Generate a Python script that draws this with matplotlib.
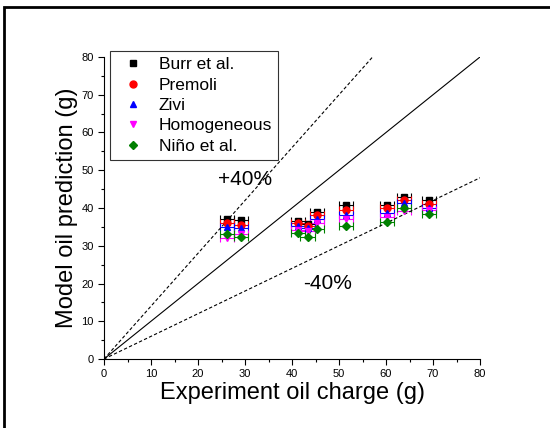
import matplotlib
matplotlib.use("Agg")
import matplotlib.pyplot as plt
from matplotlib.patches import Rectangle
from matplotlib.lines import Line2D

plt.rcParams['font.family'] = ['Liberation Sans', 'DejaVu Sans']

# experiment oil charge (g)
exp_charge = [26.2, 29.1, 41.3, 43.3, 45.3, 51.5, 60.3, 63.8, 69.1]
# model predictions (g)
burr = [37.2, 36.8, 36.6, 35.8, 39.0, 40.8, 40.8, 43.0, 42.0]
premoli = [36.0, 35.6, 36.0, 35.2, 38.1, 39.5, 39.9, 42.1, 41.0]
zivi = [35.0, 34.6, 35.2, 34.6, 37.2, 38.1, 38.6, 41.3, 39.9]
homogeneous = [32.0, 33.0, 34.2, 34.0, 36.1, 37.2, 37.7, 39.3, 39.5]
nino = [33.0, 32.2, 33.5, 32.2, 34.4, 35.2, 36.4, 39.9, 38.4]
x_err = 1.5

series = [
    ("Burr et al.", burr, "s", "black"),
    ("Premoli", premoli, "o", "red"),
    ("Zivi", zivi, "^", "blue"),
    ("Homogeneous", homogeneous, "v", "magenta"),
    ("Niño et al.", nino, "D", "green"),
]

fig = plt.figure(figsize=(5.5, 4.28), dpi=100)
ax = fig.add_axes([104 / 550, 1 - 359 / 428, 376 / 550, 302 / 428])

handles = []
for name, vals, mk, col in series:
    ms = 5 if mk != "D" else 4.5
    ax.errorbar(exp_charge, vals, xerr=x_err, fmt=mk, color=col, ecolor=col,
                ms=ms, capsize=3, elinewidth=0.8, capthick=0.8)
    handles.append(Line2D([], [], ls="none", marker=mk, color=col, ms=ms,
                          label=name))

ax.plot([0, 80], [0, 80], color="black", lw=0.8)
ax.plot([0, 80 / 1.4], [0, 80], color="black", lw=0.8, ls=(0, (3, 2)))
ax.plot([0, 80], [0, 80 * 0.6], color="black", lw=0.8, ls=(0, (3, 2)))

ax.text(30, 47.5, "+40%", fontsize=15, ha="center", va="center")
ax.text(47.5, 20, "-40%", fontsize=15, ha="center", va="center")

ax.set_xlim(0, 80)
ax.set_ylim(0, 80)
ax.set_xticks(range(0, 81, 10))
ax.set_yticks(range(0, 81, 10))
ax.set_xticks(range(5, 80, 10), minor=True)
ax.set_yticks(range(5, 80, 10), minor=True)
ax.tick_params(direction="out", labelsize=8, length=4, width=0.8)
ax.tick_params(which="minor", direction="out", length=2.5, width=0.8)
ax.spines["top"].set_visible(False)
ax.spines["right"].set_visible(False)
ax.set_xlabel("Experiment oil charge (g)", fontsize=17, labelpad=2)
ax.set_ylabel("Model oil prediction (g)", fontsize=17, labelpad=2)

leg = ax.legend(handles=handles, loc="upper left",
                bbox_to_anchor=(6 / 376, 308 / 302), borderaxespad=0,
                fontsize=12.5, frameon=True, fancybox=False,
                edgecolor="black", handletextpad=0.45, borderpad=0.35,
                labelspacing=0.3, handlelength=2)
leg.get_frame().set_linewidth(0.8)

fig.add_artist(Rectangle((4 / 550, -0.1), 1.2, 1 - 7 / 428 + 0.1,
                         transform=fig.transFigure, fill=False, lw=2,
                         edgecolor="black"))

fig.savefig("out.png", dpi=100)
